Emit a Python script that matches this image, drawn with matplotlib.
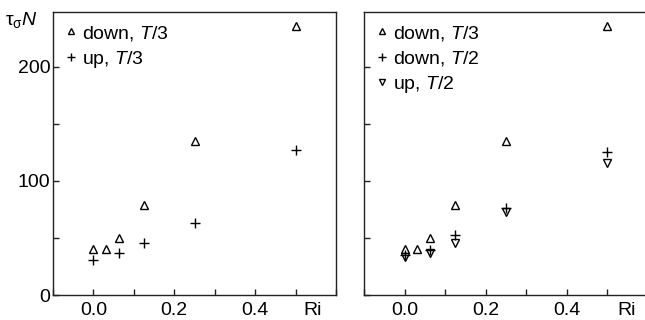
import matplotlib
matplotlib.use("Agg")
import matplotlib.pyplot as plt
from matplotlib.ticker import MultipleLocator

plt.rcParams['font.family'] = ['Liberation Sans', 'DejaVu Sans']
plt.rcParams['mathtext.fontset'] = 'custom'
plt.rcParams['mathtext.rm'] = 'Liberation Sans'
plt.rcParams['mathtext.it'] = 'Liberation Sans:italic'

# data
ri_down = [0.0, 0.03125, 0.0625, 0.125, 0.25, 0.5]
down_T3 = [40, 40, 50, 79, 135, 236]
ri_up = [0.0, 0.0625, 0.125, 0.25, 0.5]
up_T3 = [31, 37, 46, 63, 127]
down_T2 = [35, 39, 53, 76, 125]
up_T2 = [33, 37, 46, 73, 116]

xticks = [0.0, 0.2, 0.4]
xticklabels = ["0.0", "0.2", "0.4"]
yticks = [0, 100, 200]
yticklabels = ["0", "100", "200"]

fig = plt.figure(figsize=(6.45, 3.2), dpi=100)
W, H = 645, 320
ax1 = fig.add_axes([53 / W, 25 / H, 283 / W, 283 / H])
ax2 = fig.add_axes([364 / W, 25 / H, 284 / W, 283 / H])

fs = 14
for ax in (ax1, ax2):
    ax.set_xlim(-0.1, 0.6)
    ax.set_ylim(0, 248)
    ax.set_xticks(xticks)
    ax.xaxis.set_minor_locator(MultipleLocator(0.1))
    ax.set_yticks(yticks)
    ax.yaxis.set_minor_locator(MultipleLocator(50))
    ax.tick_params(which='both', direction='in', length=4, width=1, color='#222222',
                   labelsize=fs)
    ax.tick_params(axis='x', pad=5)
    ax.tick_params(axis='y', pad=2)
    for s in ax.spines.values():
        s.set_linewidth(1.0)
        s.set_color('#222222')
    ax.set_xticklabels(xticklabels)

ax1.text(313 / W, 1 / H, "Ri", transform=fig.transFigure,
         ha='center', va='bottom', fontsize=fs)
ax2.text(627 / W, 1 / H, "Ri", transform=fig.transFigure,
         ha='center', va='bottom', fontsize=fs)

ax1.set_yticklabels(yticklabels)
ax2.set_yticklabels([])

mk = dict(linestyle='none', color='black', mfc='none', mec='black', mew=1.0)

ax1.plot(ri_down, down_T3, marker='^', ms=6, label='down, $T$/3', **mk)
ax1.plot(ri_up, up_T3, marker='+', ms=7, label='up, $T$/3', **mk)

ax2.plot(ri_down, down_T3, marker='^', ms=6, label='down, $T$/3', **mk)
ax2.plot(ri_up, down_T2, marker='+', ms=7, label='down, $T$/2', **mk)
ax2.plot(ri_up, up_T2, marker='v', ms=6, label='up, $T$/2', **mk)

for ax in (ax1, ax2):
    ax.legend(loc='upper left', frameon=False, fontsize=fs, markerscale=0.75,
              handlelength=0.6, handletextpad=0.3, labelspacing=0.32,
              borderaxespad=0.3, borderpad=0.3)

fig.text(5 / W, 1 - 20 / H, r'$\mathrm{τ}_{\mathrm{σ}}N$', fontsize=fs,
         ha='left', va='center')

fig.savefig("out.png", dpi=100)
